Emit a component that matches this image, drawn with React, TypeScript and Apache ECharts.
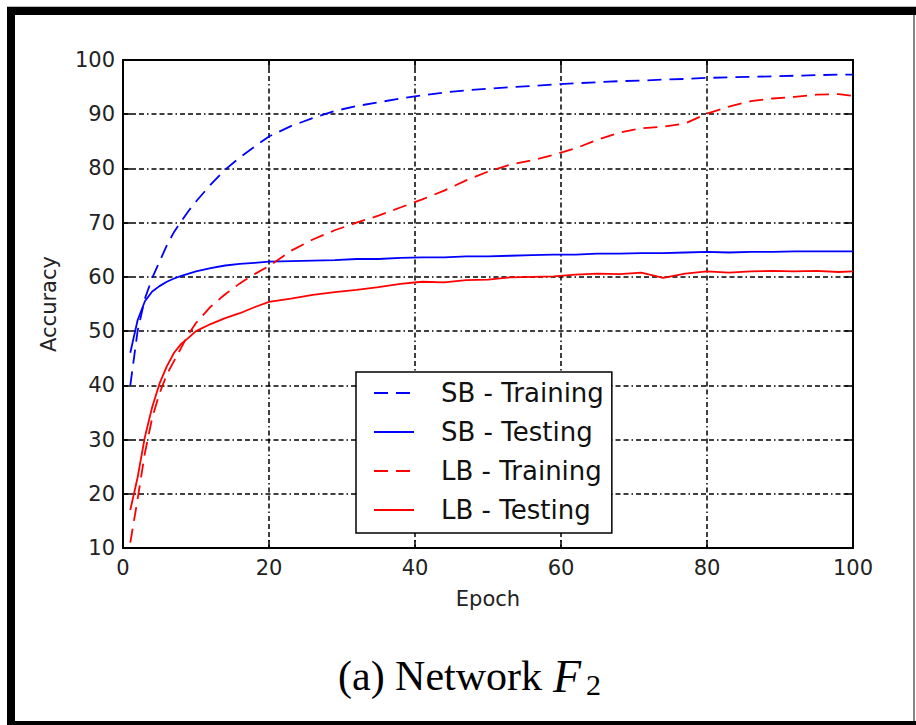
import React, { useEffect, useRef } from "react";
import * as echarts from "echarts";

const epochs = [1, 2, 3, 4, 5, 6, 7, 8, 9, 10, 12, 14, 16, 18, 20, 23, 26, 29, 32, 35, 38, 41, 44, 47, 50, 53, 56, 59, 62, 65, 68, 71, 74, 77, 80, 83, 86, 89, 92, 95, 98, 100];

const sbTraining = [40, 50, 56, 59.8, 62.8, 65.8, 68.3, 70.3, 72.2, 73.9, 77.0, 79.8, 82.0, 84.0, 85.9, 87.8, 89.3, 90.6, 91.5, 92.2, 92.9, 93.5, 94.0, 94.4, 94.7, 95.0, 95.2, 95.5, 95.7, 95.9, 96.1, 96.2, 96.4, 96.5, 96.7, 96.8, 96.9, 97.0, 97.1, 97.2, 97.3, 97.3];

const sbTesting = [46, 52, 55.5, 57.3, 58.3, 59.1, 59.7, 60.2, 60.6, 61.0, 61.6, 62.1, 62.4, 62.6, 62.8, 62.9, 63.0, 63.1, 63.3, 63.3, 63.5, 63.6, 63.6, 63.8, 63.8, 63.9, 64.0, 64.1, 64.1, 64.3, 64.3, 64.4, 64.4, 64.5, 64.6, 64.5, 64.6, 64.6, 64.7, 64.7, 64.7, 64.7];

const lbTraining = [11, 19, 27.5, 34, 38.5, 42, 44.5, 47, 49.5, 51.5, 54.5, 56.8, 58.8, 60.5, 62.0, 64.8, 66.9, 68.6, 70.0, 71.3, 72.8, 74.3, 75.9, 77.8, 79.4, 80.7, 81.5, 82.5, 83.7, 85.3, 86.6, 87.4, 87.7, 88.3, 90.1, 91.4, 92.4, 92.9, 93.2, 93.6, 93.7, 93.4];

const lbTesting = [17, 23, 30.5, 36, 40.3, 43.5, 46, 47.7, 48.8, 50.0, 51.3, 52.4, 53.3, 54.4, 55.4, 56.0, 56.7, 57.2, 57.6, 58.1, 58.7, 59.1, 59.0, 59.4, 59.5, 59.9, 60.0, 60.1, 60.4, 60.6, 60.5, 60.8, 59.8, 60.6, 61.0, 60.8, 61.0, 61.1, 61.0, 61.1, 60.9, 61.0];

const seriesNames = ["SB - Training", "SB - Testing", "LB - Training", "LB - Testing"];
const xTicks = { min: 0, max: 100, interval: 20 };
const yTicks = { min: 10, max: 100, interval: 10 };

const pair = (vals: number[]) => epochs.map((e, i) => [e, vals[i]]);

export default function App() {
  const ref = useRef<HTMLDivElement>(null);
  useEffect(() => {
    if (!ref.current) return;
    const chart = echarts.init(ref.current, null, { renderer: "svg" });
    const font = "DejaVu Sans";
    const gridDash = [5, 3, 5, 3, 5, 3, 1.5, 3];
    const lineDash = [14, 8];
    const mkSeries = (name: string, vals: number[], color: string, dashed: boolean) => ({
      name,
      type: "line",
      data: pair(vals),
      showSymbol: false,
      symbol: "none",
      smooth: false,
      lineStyle: { color, width: 1.8, type: dashed ? lineDash : "solid" },
      itemStyle: { color },
      z: 3,
    });
    chart.setOption({
      animation: false,
      backgroundColor: "#fff",
      grid: { left: 123, top: 60, right: 63, bottom: 177, containLabel: false },
      legend: {
        orient: "vertical",
        left: 356,
        top: 372,
        padding: [7, 8, 9, 17],
        itemGap: 11,
        itemWidth: 40,
        itemHeight: 14,
        backgroundColor: "#fff",
        borderColor: "#000",
        borderWidth: 1.5,
        borderRadius: 0,
        data: seriesNames,
        itemStyle: { opacity: 0, borderWidth: 0 },
        textStyle: { fontFamily: font, fontSize: 26, color: "#111", lineHeight: 28, padding: [0, 0, 0, 22] },
        z: 10,
      },
      xAxis: [
        {
          type: "value",
          ...xTicks,
          name: "Epoch",
          nameLocation: "middle",
          nameGap: 40,
          nameTextStyle: { fontFamily: font, fontSize: 21, color: "#222" },
          axisLine: { show: true, onZero: false, lineStyle: { color: "#000", width: 2 } },
          axisTick: { show: true, inside: true, length: 8, lineStyle: { color: "#000", width: 1.5 } },
          axisLabel: { fontFamily: font, fontSize: 21, color: "#222", margin: 9 },
          splitLine: { show: true, lineStyle: { color: "#000", width: 1.5, type: gridDash } },
        },
        {
          type: "value",
          ...xTicks,
          position: "top",
          axisLine: { show: true, onZero: false, lineStyle: { color: "#000", width: 2 } },
          axisTick: { show: true, inside: true, length: 8, lineStyle: { color: "#000", width: 1.5 } },
          axisLabel: { show: false },
          splitLine: { show: false },
        },
      ],
      yAxis: [
        {
          type: "value",
          ...yTicks,
          name: "Accuracy",
          nameLocation: "middle",
          nameGap: 64,
          nameTextStyle: { fontFamily: font, fontSize: 21, color: "#222" },
          axisLine: { show: true, onZero: false, lineStyle: { color: "#000", width: 2 } },
          axisTick: { show: true, inside: true, length: 8, lineStyle: { color: "#000", width: 1.5 } },
          axisLabel: { fontFamily: font, fontSize: 21, color: "#222", margin: 8 },
          splitLine: { show: true, lineStyle: { color: "#000", width: 1.5, type: gridDash } },
        },
        {
          type: "value",
          ...yTicks,
          position: "right",
          axisLine: { show: true, onZero: false, lineStyle: { color: "#000", width: 2 } },
          axisTick: { show: true, inside: true, length: 8, lineStyle: { color: "#000", width: 1.5 } },
          axisLabel: { show: false },
          splitLine: { show: false },
        },
      ],
      series: [
        mkSeries(seriesNames[0], sbTraining, "#0000ff", true),
        mkSeries(seriesNames[1], sbTesting, "#0000ff", false),
        mkSeries(seriesNames[2], lbTraining, "#ff0000", true),
        mkSeries(seriesNames[3], lbTesting, "#ff0000", false),
      ],
      graphic: [
        { type: "rect", shape: { x: 7, y: 6, width: 909, height: 1 }, style: { fill: "#bbb" }, silent: true },
        { type: "rect", shape: { x: 7, y: 7, width: 909, height: 8 }, style: { fill: "#000" }, silent: true },
        { type: "rect", shape: { x: 7, y: 7, width: 8, height: 718 }, style: { fill: "#000" }, silent: true },
        { type: "rect", shape: { x: 7, y: 721, width: 909, height: 4 }, style: { fill: "#000" }, silent: true },
        { type: "rect", shape: { x: 913, y: 15, width: 2, height: 706 }, style: { fill: "#888" }, silent: true },
        {
          type: "text",
          x: 338,
          y: 676,
          style: { text: "(a) Network ", fontFamily: "Liberation Serif", fontSize: 42, fill: "#000", verticalAlign: "middle" },
          silent: true,
        },
        {
          type: "text",
          x: 553,
          y: 676,
          style: { text: "F", fontFamily: "Liberation Serif", fontStyle: "italic", fontSize: 46, fill: "#000", verticalAlign: "middle" },
          silent: true,
        },
        {
          type: "text",
          x: 586,
          y: 684,
          style: { text: "2", fontFamily: "Liberation Serif", fontSize: 30, fill: "#000", verticalAlign: "middle" },
          silent: true,
        },
      ],
    });
    return () => chart.dispose();
  }, []);
  return <div ref={ref} style={{ position: "absolute", left: 0, top: 0, width: 916, height: 725 }} />;
}
